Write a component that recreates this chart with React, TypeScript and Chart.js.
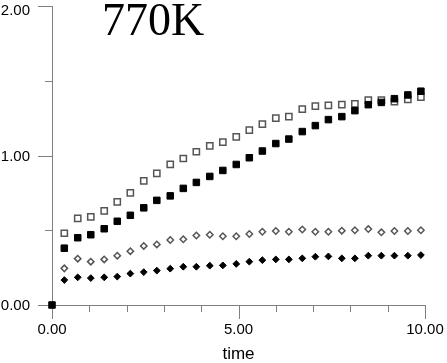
import React, { useEffect, useRef } from "react";
import { Chart, registerables } from "chart.js";

Chart.register(...registerables);

const TITLE = "770K";
const X_TITLE = "time";
const X_TICKS = [0, 1, 2, 3, 4, 5, 6, 7, 8, 9, 10];
const X_MAJOR = [0, 5, 10];
const Y_TICKS = [0, 0.5, 1, 1.5, 2];
const Y_MAJOR = [0, 1, 2];

const TIMES = [
  0.33, 0.69, 1.04, 1.4, 1.75, 2.1, 2.46, 2.81, 3.17, 3.52, 3.87, 4.23, 4.58, 4.94,
  5.29, 5.64, 6.0, 6.35, 6.71, 7.06, 7.41, 7.77, 8.12, 8.48, 8.83, 9.18, 9.54, 9.89,
];

const FILLED_SQ = [
  0.38, 0.45, 0.47, 0.51, 0.56, 0.6, 0.65, 0.7, 0.73, 0.78, 0.82, 0.86, 0.9, 0.94,
  0.985, 1.03, 1.08, 1.11, 1.16, 1.2, 1.24, 1.26, 1.3, 1.34, 1.355, 1.38, 1.405, 1.43,
];
const OPEN_SQ = [
  0.48, 0.58, 0.59, 0.63, 0.69, 0.75, 0.83, 0.88, 0.94, 0.98, 1.025, 1.065, 1.09, 1.125,
  1.17, 1.21, 1.25, 1.26, 1.31, 1.33, 1.335, 1.34, 1.345, 1.37, 1.37, 1.36, 1.375, 1.39,
];
const OPEN_DIA = [
  0.245, 0.31, 0.29, 0.305, 0.33, 0.36, 0.395, 0.405, 0.435, 0.44, 0.465, 0.47, 0.46, 0.46,
  0.475, 0.49, 0.495, 0.49, 0.505, 0.49, 0.49, 0.497, 0.5, 0.508, 0.486, 0.495, 0.495, 0.5,
];
const FILLED_DIA = [
  0.167, 0.185, 0.18, 0.185, 0.19, 0.21, 0.22, 0.23, 0.243, 0.256, 0.256, 0.263, 0.265, 0.275,
  0.29, 0.3, 0.305, 0.305, 0.312, 0.323, 0.325, 0.312, 0.312, 0.33, 0.33, 0.33, 0.33, 0.334,
];
const ORIGIN = { x: 0, y: 0 };

const toPts = (ys: number[]) => ys.map((y, i) => ({ x: TIMES[i], y }));

const AXIS_COLOR = "#808080";
const LABEL_FONT = '15px "Liberation Sans", Arial, sans-serif';

const axesPlugin = {
  id: "customAxes",
  beforeDatasetsDraw(chart: any) {
    const { ctx, chartArea, scales } = chart;
    const xs = scales.x;
    const ys = scales.y;
    ctx.save();
    ctx.fillStyle = AXIS_COLOR;
    const x0 = Math.round(xs.getPixelForValue(0));
    const x10 = Math.round(xs.getPixelForValue(10));
    const y0 = Math.round(ys.getPixelForValue(0));
    const y2 = Math.round(ys.getPixelForValue(2));
    ctx.fillRect(x0, y2, 1, y0 - y2 + 1);
    ctx.fillRect(x0, y0, x10 - x0 + 1, 1);
    X_TICKS.forEach((v) => {
      const px = Math.round(xs.getPixelForValue(v));
      const len = X_MAJOR.includes(v) ? 14 : 7;
      ctx.fillRect(px, y0, 1, len);
    });
    Y_TICKS.forEach((v) => {
      const py = Math.round(ys.getPixelForValue(v));
      const len = Y_MAJOR.includes(v) ? 14 : 7;
      ctx.fillRect(x0 - len, py, len, 1);
    });

    ctx.fillStyle = "#000";
    ctx.font = LABEL_FONT;
    ctx.textAlign = "center";
    ctx.textBaseline = "middle";
    X_MAJOR.forEach((v) => {
      ctx.fillText(v.toFixed(2), xs.getPixelForValue(v), y0 + 25);
    });
    ctx.textAlign = "right";
    Y_MAJOR.forEach((v) => {
      const py = Math.max(ys.getPixelForValue(v), chartArea.top + 4);
      ctx.fillText(v.toFixed(2), x0 - 22, py + 1);
    });
    ctx.textAlign = "center";
    ctx.textBaseline = "alphabetic";
    ctx.font = '17px "Liberation Sans", Arial, sans-serif';
    ctx.fillText(X_TITLE, (chartArea.left + chartArea.right) / 2, 359);

    ctx.textAlign = "left";
    ctx.font = '46px "Liberation Serif", "Times New Roman", serif';
    ctx.fillText(TITLE, 102, 35);
    ctx.restore();
  },
};

export default function App() {
  const ref = useRef<HTMLCanvasElement | null>(null);
  useEffect(() => {
    if (!ref.current) return;
    const chart = new Chart(ref.current, {
      type: "scatter",
      data: {
        datasets: [
          {
            label: "filled squares",
            data: [ORIGIN, ...toPts(FILLED_SQ)],
            pointStyle: "rect",
            pointRadius: 4.6,
            backgroundColor: "#000",
            borderColor: "#000",
            borderWidth: 1,
          },
          {
            label: "open squares",
            data: toPts(OPEN_SQ),
            pointStyle: "rect",
            pointRadius: 4.4,
            backgroundColor: "#fff",
            borderColor: "#555",
            borderWidth: 1.5,
          },
          {
            label: "filled diamonds",
            data: toPts(FILLED_DIA),
            pointStyle: "rectRot",
            pointRadius: 3.4,
            backgroundColor: "#000",
            borderColor: "#000",
            borderWidth: 1,
          },
          {
            label: "open diamonds",
            data: toPts(OPEN_DIA),
            pointStyle: "rectRot",
            pointRadius: 3.2,
            backgroundColor: "#fff",
            borderColor: "#555",
            borderWidth: 1.5,
          },
        ],
      },
      options: {
        animation: false,
        responsive: false,
        devicePixelRatio: 1,
        layout: { padding: { left: 52, right: 22, top: 6, bottom: 58 } },
        plugins: { legend: { display: false }, tooltip: { enabled: false } },
        scales: {
          x: { type: "linear", min: 0, max: 10, display: false },
          y: { type: "linear", min: 0, max: 2, display: false },
        },
        elements: { point: { hoverRadius: 4 } },
        clip: false as any,
      },
      plugins: [axesPlugin],
    });
    return () => chart.destroy();
  }, []);
  return (
    <div style={{ position: "absolute", left: 0, top: 0, width: 447, height: 363, background: "#fff" }}>
      <canvas ref={ref} width={447} height={363} />
    </div>
  );
}
